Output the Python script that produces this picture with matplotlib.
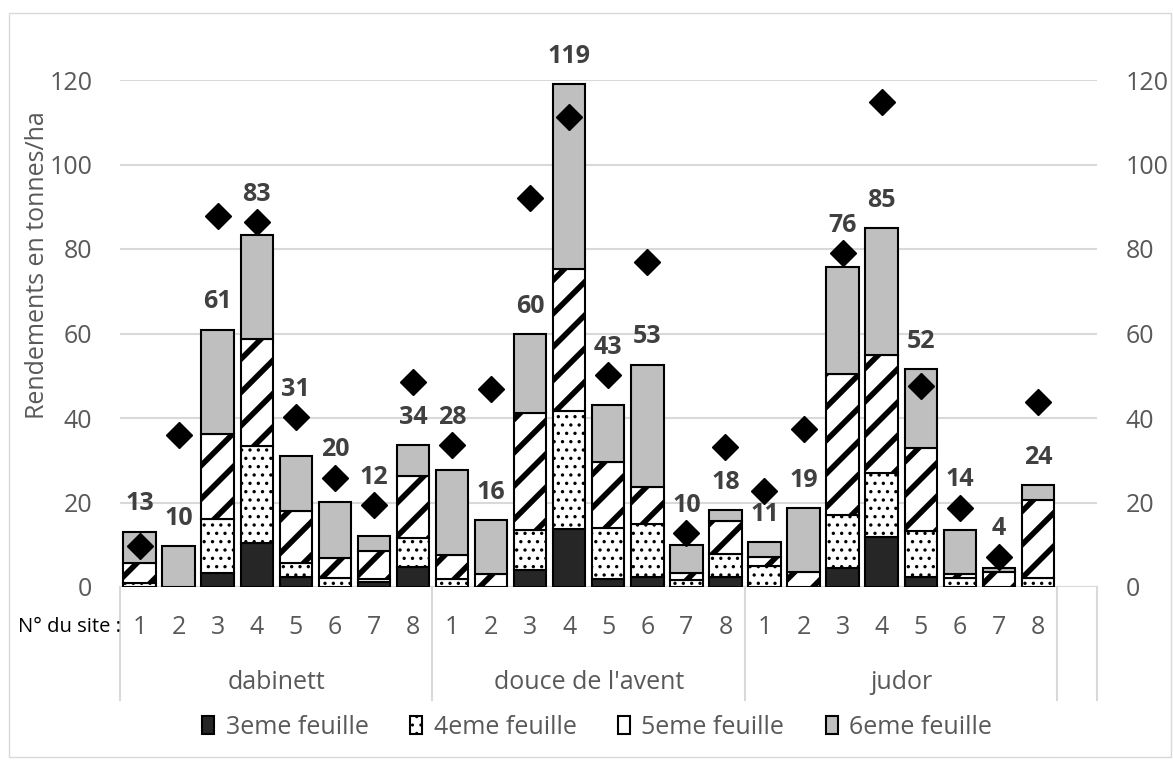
import numpy as np
import matplotlib.pyplot as plt
import matplotlib.transforms as mtransforms
from matplotlib.patches import Rectangle

plt.rcParams['font.family'] = ['Open Sans', 'DejaVu Sans']

# valeurs (t/ha), 8 sites par variete
varietes = ["dabinett", "douce de l'avent", "judor"]
sites = [1, 2, 3, 4, 5, 6, 7, 8]
feuille3 = [0, 0, 3.4, 10.3, 2.4, 0, 1.3, 4.8,
            0, 0, 4.0, 13.8, 2.0, 2.4, 0, 2.4,
            0, 0, 4.4, 11.9, 2.4, 0, 0, 0]
feuille4 = [1.0, 0, 12.8, 23.1, 3.3, 2.2, 0.7, 6.9,
            1.8, 0, 9.6, 27.8, 11.9, 12.6, 1.7, 5.4,
            5.0, 0, 12.6, 15.1, 10.8, 2.2, 0, 2.2]
feuille5 = [4.7, 0, 20.1, 25.3, 12.3, 4.6, 6.6, 14.6,
            5.8, 3.1, 27.7, 33.6, 15.6, 8.6, 1.7, 7.9,
            2.2, 3.5, 33.3, 28.0, 19.6, 0.8, 3.6, 18.4]
feuille6 = [7.4, 9.7, 24.6, 24.5, 12.9, 13.4, 3.4, 7.3,
            20.2, 12.7, 18.5, 43.9, 13.5, 29.0, 6.5, 2.5,
            3.4, 15.2, 25.4, 29.9, 18.8, 10.6, 0.8, 3.5]
losanges = [9.8, 35.9, 87.9, 86.3, 40.2, 25.9, 19.4, 48.5,
            33.5, 46.9, 92.1, 111.3, 50.1, 76.9, 12.8, 33.1,
            22.8, 37.3, 79.1, 114.8, 47.6, 18.8, 7.2, 43.8]
noms_series = ["3eme feuille", "4eme feuille", "5eme feuille", "6eme feuille"]

W, H = 1173, 761
fig = plt.figure(figsize=(W / 100, H / 100), dpi=100)
ax = fig.add_axes([120 / W, 174 / H, (1096.5 - 120) / W, 507 / H])

gris_txt = '#595959'
x = np.arange(len(feuille3))
series = [feuille3, feuille4, feuille5, feuille6]
couleurs = ['#262626', 'white', 'white', '#bfbfbf']
hachures = [None, '..', '/', None]
hatch_lw = [1.0, 1.2, 4.0, 1.0]

bas = np.zeros(len(x))
for vals, c, h, hl, nom in zip(series, couleurs, hachures, hatch_lw, noms_series):
    with plt.rc_context({'hatch.linewidth': hl}):
        bars = ax.bar(x, vals, width=0.83, bottom=bas, color=c, edgecolor='black',
                      linewidth=1.5, hatch=h, label=nom, zorder=3)
    for b in bars:
        if hasattr(b, 'set_hatch_linewidth'):
            b.set_hatch_linewidth(hl)
    bas = bas + np.array(vals)

ax.plot(x, losanges, linestyle='none', marker='D', markersize=13.5,
        color='black', zorder=5)

# etiquette au-dessus de la barre, ou du losange s'il est juste au-dessus
for xi, tot, los in zip(x, bas, losanges):
    ancre = los if 0 < los - tot < 10 else tot
    ax.annotate(f"{tot:.0f}", (xi, ancre), xytext=(0, 20), textcoords='offset points',
                ha='center', va='center', fontsize=18, fontweight='bold',
                color='#404040', zorder=6)

ax.set_xlim(-0.5, 24.5)
ax.set_ylim(0, 120)
ax.set_yticks(range(0, 121, 20))
ax.grid(axis='y', color='#d9d9d9', linewidth=1.5, zorder=0)
ax.set_axisbelow(True)
for s in ax.spines.values():
    s.set_visible(False)
ax.axhline(0, color='#d9d9d9', linewidth=1.5, zorder=1)
ax.set_xticks([])
ax.tick_params(axis='y', length=0, pad=20, labelsize=18, labelcolor=gris_txt)

ax2 = ax.twinx()
ax2.set_ylim(0, 120)
ax2.set_yticks(range(0, 121, 20))
for s in ax2.spines.values():
    s.set_visible(False)
ax2.tick_params(axis='y', length=0, pad=21, labelsize=18, labelcolor=gris_txt)

# axe des categories a deux niveaux
trans = mtransforms.blended_transform_factory(ax.transData, ax.transAxes)
for i, v in enumerate(varietes):
    for j, s in enumerate(sites):
        ax.text(i * 8 + j, -0.079, str(s), transform=trans, ha='center', va='center',
                fontsize=18, color=gris_txt)
    ax.text(i * 8 + 3.5, -0.189, v, transform=trans, ha='center', va='center',
            fontsize=18, color=gris_txt)
for xs in [-0.5, 7.5, 15.5, 23.5, 24.5]:
    ax.plot([xs, xs], [0, -0.223], transform=trans, color='#d9d9d9',
            linewidth=1.5, clip_on=False)

fig.text(121 / W, 1 - 627 / H, "N° du site :", ha='right', va='center',
         fontsize=14.5, color='black')
fig.text(38 / W, 1 - 265 / H, "Rendements en tonnes/ha", rotation=90,
         ha='center', va='center', fontsize=18, color=gris_txt)

ax.legend(loc='center', bbox_to_anchor=(597 / W, 1 - 727 / H),
          bbox_transform=fig.transFigure, ncol=4, frameon=False, fontsize=18,
          handlelength=0.5, handleheight=0.7, handletextpad=0.45,
          columnspacing=1.65, labelcolor=gris_txt)

fig.patches.append(Rectangle((9 / W, 1 - 757 / H), (1171 - 9) / W, (757 - 13) / H,
                             transform=fig.transFigure, fill=False,
                             edgecolor='#d9d9d9', linewidth=1))

fig.savefig("out.png", dpi=100)
